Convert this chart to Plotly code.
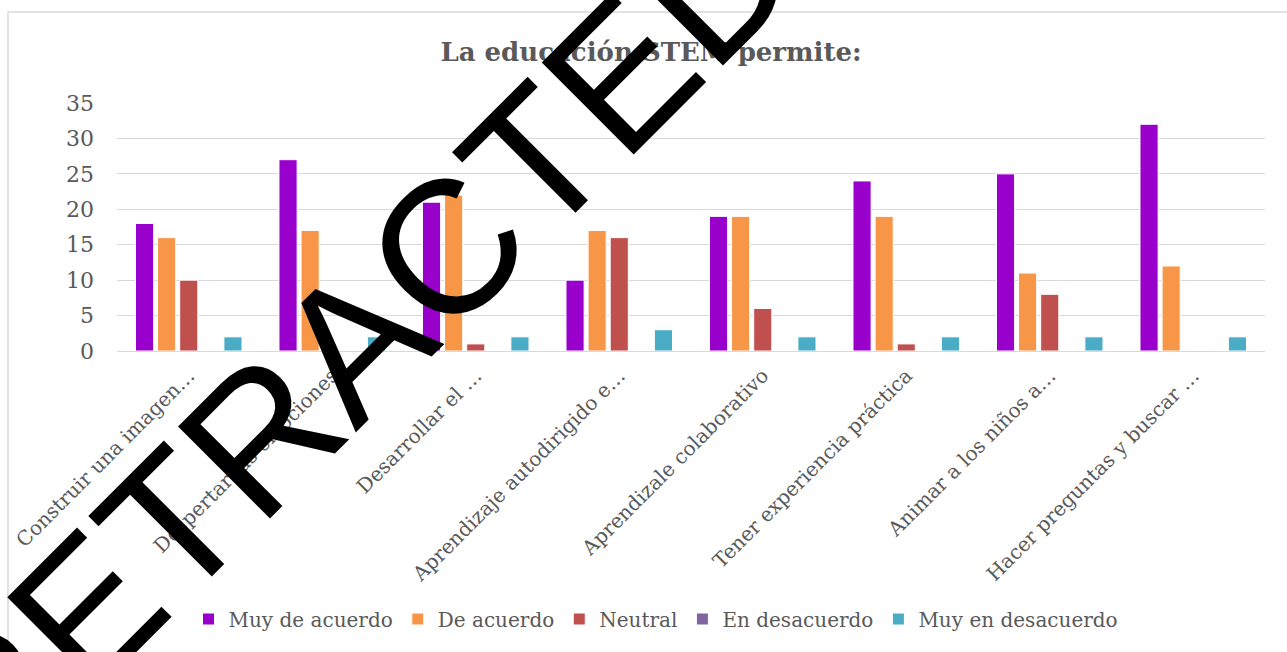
import plotly.graph_objects as go

categories = [
    "Construir una imagen…",
    "Despertar las emociones",
    "Desarrollar el …",
    "Aprendizaje autodirigido e…",
    "Aprendizale colaborativo",
    "Tener experiencia práctica",
    "Animar a los niños a…",
    "Hacer preguntas y buscar …",
]
muy_de_acuerdo = [18, 27, 21, 10, 19, 24, 25, 32]
de_acuerdo = [16, 17, 22, 17, 19, 19, 11, 12]
neutral = [10, 0, 1, 16, 6, 1, 8, 0]
en_desacuerdo = [0, 0, 0, 0, 0, 0, 0, 0]
muy_en_desacuerdo = [2, 2, 2, 3, 2, 2, 2, 2]

series = [
    ("Muy de acuerdo", muy_de_acuerdo, "#9900CC"),
    ("De acuerdo", de_acuerdo, "#F79646"),
    ("Neutral", neutral, "#C0504D"),
    ("En desacuerdo", en_desacuerdo, "#8064A2"),
    ("Muy en desacuerdo", muy_en_desacuerdo, "#4BACC6"),
]

W, H = 1287, 652
ML, MR, MT, MB = 117, W - 1265, 103, H - 351
PW, PH = W - ML - MR, H - MT - MB

def px(x):
    return (x - ML) / PW

def py(y):
    return (H - MB - y) / PH

fig = go.Figure()
for name, vals, color in series:
    fig.add_trace(go.Bar(
        x=categories, y=vals, name=name,
        marker=dict(color=color, line=dict(color="white", width=1)),
    ))

fontfam = "DejaVu Serif"
fig.update_layout(
    width=W, height=H,
    margin=dict(l=ML, r=MR, t=MT, b=MB),
    paper_bgcolor="white", plot_bgcolor="white",
    barmode="group", bargap=0.23, bargroupgap=0.18,
    font=dict(family=fontfam, color="#595959"),
    title=dict(
        text="<b>La educación STEM permite:</b>",
        font=dict(family=fontfam, size=26, color="#595959"),
        xref="container", x=651 / W, xanchor="center",
        yref="container", y=1 - 52 / H, yanchor="middle",
    ),
    xaxis=dict(
        tickangle=-45, tickfont=dict(family=fontfam, size=20, color="#595959"),
        showgrid=False, showline=False, ticks="", ticklabelstandoff=8,
    ),
    yaxis=dict(
        range=[0, 35], dtick=5, tickfont=dict(family=fontfam, size=22, color="#595959"),
        gridcolor="#D9D9D9", gridwidth=1.4, zeroline=True, zerolinecolor="#D9D9D9",
        zerolinewidth=1.4, showline=False, ticklabelstandoff=22,
    ),
    legend=dict(
        orientation="h", x=px(656), xanchor="center", y=py(619), yanchor="middle",
        font=dict(family=fontfam, size=20, color="#595959"), itemwidth=30,
    ),
    shapes=[dict(
        type="rect", xref="paper", yref="paper",
        x0=px(8), x1=px(1300), y0=py(700), y1=py(12),
        line=dict(color="#D9D9D9", width=1.5), fillcolor="rgba(0,0,0,0)", layer="below",
    )],
    annotations=[dict(
        text="RETRACTED", xref="paper", yref="paper",
        x=px(353), y=py(342), xanchor="center", yanchor="middle",
        textangle=-45, showarrow=False,
        font=dict(family="Liberation Sans", size=189, color="black"),
    )],
)

fig.write_html("out.html")
